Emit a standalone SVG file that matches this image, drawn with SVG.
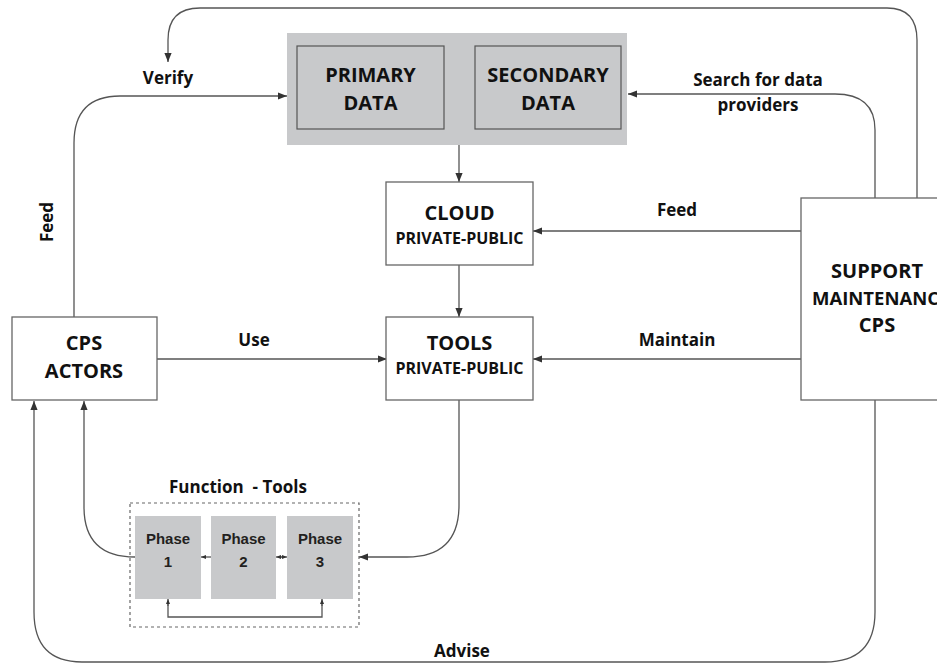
<svg xmlns="http://www.w3.org/2000/svg" width="937" height="664" viewBox="0 0 937 664">
<style>
.box{fill:#fff;stroke:#666;stroke-width:1.3}
.gbox{fill:#c8c9cb;stroke:#555;stroke-width:1.2}
.ph{fill:#c8c9cb;stroke:none}
.ln{fill:none;stroke:#555;stroke-width:1.3}
.t{font-family:"Open Sans","Noto Sans",sans-serif;font-weight:bold;fill:#111;text-anchor:middle}
.big{font-size:20px}
.mid{font-size:16px}
.lbl{font-size:17px}
.pt{font-family:"Liberation Sans",Arial,sans-serif;font-weight:bold;font-size:15px;fill:#231f20;text-anchor:middle}
</style>
<defs>
<marker id="ah" viewBox="0 0 10 10" refX="10" refY="5" markerWidth="9" markerHeight="9" markerUnits="userSpaceOnUse" orient="auto">
<path d="M0,1 L10,5 L0,9 z" fill="#333"/>
</marker>
<marker id="sm" viewBox="0 0 10 10" refX="10" refY="5" markerWidth="5" markerHeight="5" markerUnits="userSpaceOnUse" orient="auto">
<path d="M0,1 L10,5 L0,9 z" fill="#333"/>
</marker>
</defs>
<rect width="937" height="664" fill="#fff"/>

<g id="connectors">
<path class="ln" d="M917,198 L917,40 Q917,8 887,8 L200,8 Q168,8 168,40 L168,62" marker-end="url(#ah)"/>
<path class="ln" d="M875,198 L875,130 Q875,94 835,94 L628,94" marker-end="url(#ah)"/>
<path class="ln" d="M74,317 L74,143 Q74,96 120,96 L287,96" marker-end="url(#ah)"/>
<path class="ln" d="M459,145 L459,182" marker-end="url(#ah)"/>
<path class="ln" d="M459,265 L459,317" marker-end="url(#ah)"/>
<path class="ln" d="M801,231 L533,231" marker-end="url(#ah)"/>
<path class="ln" d="M801,359 L533,359" marker-end="url(#ah)"/>
<path class="ln" d="M157,359 L387,359" marker-end="url(#ah)"/>
<path class="ln" d="M459,400 L459,505 Q459,557 407,557 L359,557" marker-end="url(#ah)"/>
<path class="ln" d="M135,557 Q84,557 84,507 L84,401" marker-end="url(#ah)"/>
<path class="ln" d="M875,400 L875,612 Q875,662 825,662 L82,662 Q34,662 34,612 L34,401" marker-end="url(#ah)"/>
<path class="ln" d="M211,557 L201,557" stroke-width="1" marker-end="url(#sm)"/>
<path class="ln" d="M282,557 L276,557" stroke-width="1" marker-end="url(#sm)"/>
<path class="ln" d="M281,557 L287,557" stroke-width="1" marker-end="url(#sm)"/>
<path class="ln" d="M168,604 L168,617 L322,617 L322,604" stroke-width="1"/>
<path class="ln" d="M168,606 L168,599" stroke-width="1" marker-end="url(#sm)"/>
<path class="ln" d="M322,606 L322,599" stroke-width="1" marker-end="url(#sm)"/>
<text class="t lbl" x="168" y="84">Verify</text>
<text class="t lbl" x="758" y="86">Search for data</text>
<text class="t lbl" x="758" y="111">providers</text>
<text class="t lbl" transform="translate(53,222) rotate(-90)">Feed</text>
<text class="t lbl" x="677" y="216">Feed</text>
<text class="t lbl" x="677" y="346">Maintain</text>
<text class="t lbl" x="254" y="346">Use</text>
<text class="t lbl" x="462" y="657">Advise</text>
</g>

<g id="data-container">
<rect x="287" y="33" width="340" height="112" fill="#c8c9cb"/>
</g>
<g id="primary-data">
<rect class="gbox" x="297" y="46" width="147" height="83"/>
<text class="t big" x="370.5" y="82">PRIMARY</text>
<text class="t big" x="370.5" y="110">DATA</text>
</g>
<g id="secondary-data">
<rect class="gbox" x="475" y="46" width="146" height="83"/>
<text class="t big" x="548" y="82">SECONDARY</text>
<text class="t big" x="548" y="110">DATA</text>
</g>
<g id="cloud">
<rect class="box" x="386" y="182" width="147" height="83"/>
<text class="t big" x="459.5" y="220">CLOUD</text>
<text class="t mid" x="459.5" y="244">PRIVATE-PUBLIC</text>
</g>
<g id="tools">
<rect class="box" x="386" y="317" width="147" height="83"/>
<text class="t big" x="459.5" y="350">TOOLS</text>
<text class="t mid" x="459.5" y="374">PRIVATE-PUBLIC</text>
</g>
<g id="cps-actors">
<rect class="box" x="12" y="317" width="145" height="83"/>
<text class="t big" x="84" y="350">CPS</text>
<text class="t big" x="84" y="378">ACTORS</text>
</g>
<g id="support">
<rect class="box" x="801" y="198" width="150" height="202"/>
<text class="t big" x="877" y="278">SUPPORT</text>
<text class="t" x="812" y="305" style="text-anchor:start;font-size:18.5px">MAINTENANCE</text>
<text class="t big" x="877" y="332">CPS</text>
</g>
<g id="function-tools">
<rect x="130" y="503" width="229" height="124" fill="none" stroke="#666" stroke-width="1.2" stroke-dasharray="3,3"/>
<text class="t lbl" x="238" y="493" xml:space="preserve">Function  - Tools</text>
</g>
<g id="phase1">
<rect class="ph" x="135" y="516" width="66" height="83"/>
<text class="pt" x="168" y="544">Phase</text>
<text class="pt" x="168" y="567">1</text>
</g>
<g id="phase2">
<rect class="ph" x="211" y="516" width="65" height="83"/>
<text class="pt" x="243.5" y="544">Phase</text>
<text class="pt" x="243.5" y="567">2</text>
</g>
<g id="phase3">
<rect class="ph" x="287" y="516" width="66" height="83"/>
<text class="pt" x="320" y="544">Phase</text>
<text class="pt" x="320" y="567">3</text>
</g>
</svg>
